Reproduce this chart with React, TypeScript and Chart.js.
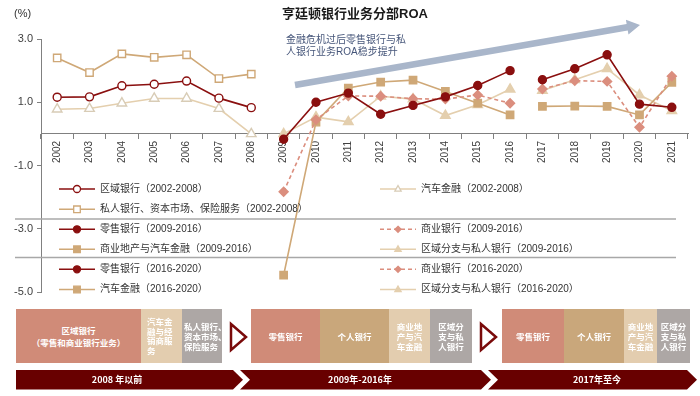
import React, { useEffect, useRef } from 'react';
import { Chart, registerables } from 'chart.js';
Chart.register(...registerables);

const FONT = "'Liberation Sans', 'Noto Sans CJK SC', sans-serif";
const CJK = "'Noto Sans CJK SC', 'Liberation Sans', sans-serif";

const years = ['2002','2003','2004','2005','2006','2007','2008','2009','2010','2011','2012','2013','2014','2015','2016','2017','2018','2019','2020','2021'];
const yTickValues = [-5, -3, -1, 1, 3];

const N = null;
const regional0208 = [1.16,1.17,1.52,1.57,1.67,1.13,0.83,N,N,N,N,N,N,N,N,N,N,N,N,N];
const auto0208 = [0.78,0.8,0.97,1.12,1.12,0.8,0.0,N,N,N,N,N,N,N,N,N,N,N,N,N];
const private0208 = [2.4,1.94,2.53,2.42,2.5,1.75,1.89,N,N,N,N,N,N,N,N,N,N,N,N,N];
const retail0916 = [N,N,N,N,N,N,N,-0.17,1.0,1.29,0.62,0.9,1.17,1.53,2.0,N,N,N,N,N];
const commercial0916 = [N,N,N,N,N,N,N,-1.83,0.45,1.2,1.19,1.11,1.1,1.23,0.97,N,N,N,N,N];
const creAuto0916 = [N,N,N,N,N,N,N,-4.47,0.37,1.45,1.64,1.7,1.34,0.97,0.6,N,N,N,N,N];
const branch0916 = [N,N,N,N,N,N,N,0.0,0.53,0.38,1.19,1.1,0.58,0.92,1.41,N,N,N,N,N];
const retail1620 = [N,N,N,N,N,N,N,N,N,N,N,N,N,N,N,1.71,2.06,2.5,0.94,0.84];
const commercial1620 = [N,N,N,N,N,N,N,N,N,N,N,N,N,N,N,1.42,1.68,1.66,0.21,1.82];
const auto1620 = [N,N,N,N,N,N,N,N,N,N,N,N,N,N,N,0.87,0.88,0.87,0.6,1.63];
const branch1620 = [N,N,N,N,N,N,N,N,N,N,N,N,N,N,N,1.37,1.71,2.06,1.23,0.73];

const seriesLabels = [
  '区域银行（2002-2008）',
  '汽车金融（2002-2008）',
  '私人银行、资本市场、保险服务（2002-2008）',
  '零售银行（2009-2016）',
  '商业银行（2009-2016）',
  '商业地产与汽车金融（2009-2016）',
  '区域分支与私人银行（2009-2016）',
  '零售银行（2016-2020）',
  '商业银行（2016-2020）',
  '汽车金融（2016-2020）',
  '区域分支与私人银行（2016-2020）',
];

const titleText = '亨廷顿银行业务分部ROA';
const unitText = '(%)';
const noteLines = ['金融危机过后零售银行与私', '人银行业务ROA稳步提升'];

const group1 = [
  { lines: ['区域银行', '（零售和商业银行业务）'] },
  { lines: ['汽车金', '融与经', '销商服', '务'] },
  { lines: ['私人银行、', '资本市场、', '保险服务'] },
];
const group2 = [
  { lines: ['零售银行'] },
  { lines: ['个人银行'] },
  { lines: ['商业地', '产与汽', '车金融'] },
  { lines: ['区域分', '支与私', '人银行'] },
];
const group3 = group2;
const periodLabels = ['2008 年以前', '2009年-2016年', '2017年至今'];

const DARK = '#8A0F0F';
const TAN = '#CFA877';
const BEIGE = '#E4CFAE';
const SALMON = '#DB8E7E';

function mk(label: string, data: any[], color: string, style: string, open: boolean, dashed: boolean, radius: number, pcolor?: string) {
  return {
    label, data,
    borderColor: color, backgroundColor: color,
    borderWidth: 1.6,
    borderDash: dashed ? [4, 3] : [],
    pointStyle: style,
    pointRadius: radius,
    pointHoverRadius: radius,
    pointBackgroundColor: open ? '#ffffff' : (pcolor || color),
    pointBorderColor: pcolor || color,
    pointBorderWidth: 1.4,
    spanGaps: false,
    tension: 0,
    fill: false,
  };
}

// legend slot: [column, row]
const legendSlots: [number, number][] = [[0,0],[1,0],[0,1],[0,2],[1,2],[0,3],[1,3],[0,4],[1,4],[0,5],[1,5]];

function drawMarker(ctx: CanvasRenderingContext2D, style: string, x: number, y: number, r: number, fill: string, stroke: string) {
  ctx.beginPath();
  if (style === 'circle') ctx.arc(x, y, r, 0, Math.PI * 2);
  else if (style === 'rect') ctx.rect(x - r, y - r, 2 * r, 2 * r);
  else if (style === 'rectRot') { ctx.moveTo(x, y - r); ctx.lineTo(x + r, y); ctx.lineTo(x, y + r); ctx.lineTo(x - r, y); ctx.closePath(); }
  else if (style === 'triangle') { ctx.moveTo(x, y - r); ctx.lineTo(x + r * 0.9, y + r * 0.6); ctx.lineTo(x - r * 0.9, y + r * 0.6); ctx.closePath(); }
  ctx.fillStyle = fill; ctx.fill();
  ctx.setLineDash([]);
  ctx.lineWidth = 1.3; ctx.strokeStyle = stroke; ctx.stroke();
}

const decorPlugin = {
  id: 'decor',
  beforeDatasetsDraw(chart: any) {
    const ctx = chart.ctx as CanvasRenderingContext2D;
    ctx.save();
    // legend separators
    ctx.strokeStyle = '#A8A8A8';
    ctx.lineWidth = 1.3;
    [219, 257.5].forEach((yy) => { ctx.beginPath(); ctx.moveTo(15, yy); ctx.lineTo(676, yy); ctx.stroke(); });
    // big arrow
    const x0 = 295, y0 = 85, x1 = 640, y1 = 25;
    const ang = Math.atan2(y1 - y0, x1 - x0);
    const headLen = 13, shaftW = 6.5, headW = 15;
    const bx = x1 - Math.cos(ang) * headLen, by = y1 - Math.sin(ang) * headLen;
    const nx = -Math.sin(ang), ny = Math.cos(ang);
    ctx.fillStyle = '#A9B6CA';
    ctx.beginPath();
    ctx.moveTo(x0 + nx * shaftW / 2, y0 + ny * shaftW / 2);
    ctx.lineTo(bx + nx * shaftW / 2, by + ny * shaftW / 2);
    ctx.lineTo(bx + nx * headW / 2, by + ny * headW / 2);
    ctx.lineTo(x1, y1);
    ctx.lineTo(bx - nx * headW / 2, by - ny * headW / 2);
    ctx.lineTo(bx - nx * shaftW / 2, by - ny * shaftW / 2);
    ctx.lineTo(x0 - nx * shaftW / 2, y0 - ny * shaftW / 2);
    ctx.closePath();
    ctx.fill();
    ctx.restore();
  },
  afterDraw(chart: any) {
    const ctx = chart.ctx as CanvasRenderingContext2D;
    ctx.save();
    ctx.textBaseline = 'middle';
    // title
    ctx.fillStyle = '#1a1a1a';
    ctx.font = `bold 13px ${FONT}`;
    ctx.textAlign = 'center';
    ctx.fillText(titleText, 355, 14);
    ctx.textAlign = 'left';
    ctx.font = `11px ${FONT}`;
    ctx.fillStyle = '#333';
    ctx.fillText(unitText, 14, 14);
    // note
    ctx.font = `10px ${FONT}`;
    ctx.fillStyle = '#46567A';
    ctx.fillText(noteLines[0], 286, 40);
    ctx.fillText(noteLines[1], 286, 52);
    // legend
    const rows = [189, 209.3, 229.3, 249.3, 269.3, 289.5];
    const cols = [59, 380];
    chart.data.datasets.forEach((ds: any, i: number) => {
      const [c, r] = legendSlots[i];
      const lx = cols[c], ly = rows[r];
      ctx.beginPath();
      ctx.setLineDash(ds.borderDash || []);
      ctx.strokeStyle = ds.borderColor;
      ctx.lineWidth = 1.6;
      ctx.moveTo(lx, ly); ctx.lineTo(lx + 36, ly); ctx.stroke();
      const st = ds.pointStyle;
      const rr = st === 'circle' ? 3.5 : st === 'rect' ? 3.3 : st === 'rectRot' ? 3 : 3.5;
      drawMarker(ctx, st, lx + 18, ly, rr, ds.pointBackgroundColor, ds.pointBorderColor);
      ctx.fillStyle = '#333';
      ctx.font = `10px ${FONT}`;
      ctx.fillText(ds.label, lx + 41, ly);
    });
    ctx.restore();
  },
};

const boxColors = { salmon: '#D08B78', tan: '#C9A77B', beige: '#E3CDAF', gray: '#ADA7A5' };

function Box(props: { x: number; w: number; bg: string; lines: string[]; left?: number; lh?: number }) {
  const { x, w, bg, lines, left, lh } = props;
  return (
    <div style={{
      position: 'absolute', left: x, top: 309, width: w, height: 54, background: bg,
      display: 'flex', flexDirection: 'column', justifyContent: 'center',
      alignItems: left !== undefined ? 'flex-start' : 'center', paddingLeft: left || 0, boxSizing: 'border-box',
      color: '#fff', fontWeight: 'bold', fontSize: 8.5, lineHeight: `${lh || 11}px`, fontFamily: CJK,
    }}>
      {lines.map((l, i) => <div key={i} style={{ whiteSpace: 'nowrap' }}>{l}</div>)}
    </div>
  );
}

export default function App() {
  const ref = useRef<HTMLCanvasElement>(null);
  useEffect(() => {
    if (!ref.current) return;
    const datasets = [
      mk(seriesLabels[0], regional0208, DARK, 'circle', true, false, 4),
      mk(seriesLabels[1], auto0208, BEIGE, 'triangle', true, false, 5.5, '#D8CCB6'),
      mk(seriesLabels[2], private0208, TAN, 'rect', true, false, 5.2),
      mk(seriesLabels[3], retail0916, DARK, 'circle', false, false, 4),
      mk(seriesLabels[4], commercial0916, SALMON, 'rectRot', false, true, 4.5),
      mk(seriesLabels[5], creAuto0916, TAN, 'rect', false, false, 5.2),
      mk(seriesLabels[6], branch0916, BEIGE, 'triangle', false, false, 5.5),
      mk(seriesLabels[7], retail1620, DARK, 'circle', false, false, 4),
      mk(seriesLabels[8], commercial1620, SALMON, 'rectRot', false, true, 4.5),
      mk(seriesLabels[9], auto1620, TAN, 'rect', false, false, 5.2),
      mk(seriesLabels[10], branch1620, BEIGE, 'triangle', false, false, 5.5),
    ];
    const chart = new Chart(ref.current, {
      type: 'line',
      data: { labels: years, datasets: datasets as any },
      options: {
        responsive: false,
        animation: false,
        devicePixelRatio: 1,
        layout: { padding: { left: 0, top: 39, right: 12, bottom: 104 } },
        plugins: { legend: { display: false }, title: { display: false }, tooltip: { enabled: false } },
        scales: {
          x: {
            type: 'category',
            position: { y: 0 } as any,
            offset: true,
            grid: { display: true, drawOnChartArea: false, drawTicks: true, tickLength: 5, color: '#808080', offset: true },
            border: { display: true, color: '#808080', width: 1 },
            ticks: { maxRotation: 90, minRotation: 90, autoSkip: false, padding: 2, font: { size: 10, family: FONT }, color: '#404040' },
          },
          y: {
            min: -5, max: 3,
            afterFit: (s: any) => { s.width = 41; },
            afterBuildTicks: (s: any) => { s.ticks = yTickValues.map((v) => ({ value: v })); },
            ticks: { callback: (v: any) => Number(v).toFixed(1), font: { size: 11, family: FONT }, color: '#404040', padding: 4 },
            grid: { drawOnChartArea: false, drawTicks: true, tickLength: 4, color: '#808080' },
            border: { display: true, color: '#808080', width: 1 },
          },
        },
      },
      plugins: [decorPlugin],
    });
    return () => chart.destroy();
  }, []);

  const seg = (x0: number, x1: number, notch: boolean) => {
    const t = 370, b = 389.5, m = (t + b) / 2;
    const pts = notch
      ? [[x0, t], [x1, t], [x1 + 10, m], [x1, b], [x0, b], [x0 + 10, m]]
      : [[x0, t], [x1, t], [x1 + 10, m], [x1, b], [x0, b]];
    return pts.map((p) => p.join(',')).join(' ');
  };

  return (
    <div style={{ position: 'fixed', left: 0, top: 0, width: 700, height: 396, background: '#fff', overflow: 'hidden' }}>
      <canvas ref={ref} width={700} height={396} style={{ display: 'block', position: 'absolute', left: 0, top: 0 }} />
      <Box x={16} w={125} bg={boxColors.salmon} lines={group1[0].lines} lh={12} />
      <Box x={141} w={41} bg={boxColors.beige} lines={group1[1].lines} left={6} lh={9.5} />
      <Box x={182} w={40} bg={boxColors.gray} lines={group1[2].lines} left={2} lh={10} />
      <Box x={251} w={69} bg={boxColors.salmon} lines={group2[0].lines} />
      <Box x={320} w={69} bg={boxColors.tan} lines={group2[1].lines} />
      <Box x={389} w={41} bg={boxColors.beige} lines={group2[2].lines} lh={10} />
      <Box x={430} w={42} bg={boxColors.gray} lines={group2[3].lines} lh={10} />
      <Box x={502} w={62} bg={boxColors.salmon} lines={group3[0].lines} />
      <Box x={564} w={60} bg={boxColors.tan} lines={group3[1].lines} />
      <Box x={624} w={33} bg={boxColors.beige} lines={group3[2].lines} lh={10} />
      <Box x={657} w={33} bg={boxColors.gray} lines={group3[3].lines} lh={10} />
      <svg width={700} height={396} style={{ position: 'absolute', left: 0, top: 0, pointerEvents: 'none' }}>
        <polygon points="231,324 246,337 231,350" fill="#fff" stroke="#7A0A0A" strokeWidth={2.5} />
        <polygon points="481,324 496,337 481,350" fill="#fff" stroke="#7A0A0A" strokeWidth={2.5} />
        <polygon points={seg(16, 233, false)} fill="#680000" />
        <polygon points={seg(240, 481, true)} fill="#680000" />
        <polygon points={seg(488, 687, true)} fill="#680000" />
        <text x={117} y={383} textAnchor="middle" fill="#fff" fontWeight="bold" fontSize={9} fontFamily={CJK}>{periodLabels[0]}</text>
        <text x={360} y={383} textAnchor="middle" fill="#fff" fontWeight="bold" fontSize={9} fontFamily={CJK}>{periodLabels[1]}</text>
        <text x={597} y={383} textAnchor="middle" fill="#fff" fontWeight="bold" fontSize={9} fontFamily={CJK}>{periodLabels[2]}</text>
      </svg>
    </div>
  );
}
